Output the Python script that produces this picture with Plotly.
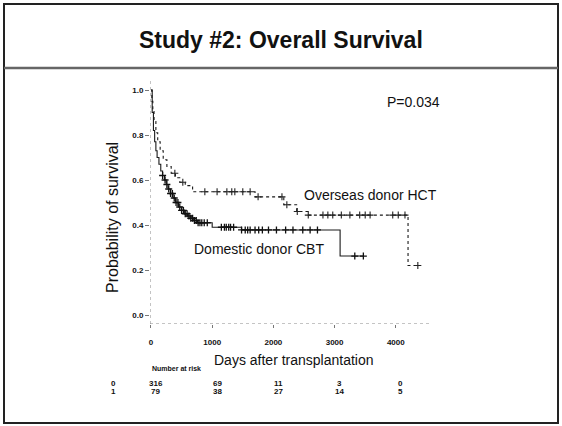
import plotly.graph_objects as go

# ---------------- data ----------------
cbt_times = [0, 20, 40, 60, 80, 100, 130, 160, 190, 220, 250, 280, 320, 360, 400, 450,
             500, 550, 600, 650, 700, 760, 1000, 1480, 3090, 3470]
cbt_surv = [1.0, 0.90, 0.82, 0.77, 0.73, 0.70, 0.67, 0.64, 0.62, 0.60, 0.58, 0.56, 0.54, 0.52,
            0.50, 0.48, 0.465, 0.45, 0.44, 0.43, 0.42, 0.41, 0.39, 0.378, 0.262, 0.262]
cbt_censor = [190, 230, 260, 290, 320, 350, 380, 410, 440, 470, 500, 530, 560, 590, 620, 650,
              680, 710, 740, 770, 800, 830, 870, 920, 1150, 1200, 1230, 1270, 1300, 1350, 1480,
              1540, 1580, 1620, 1700, 1760, 1820, 1920, 2050, 2200, 2320, 2480, 2600, 2720,
              3330, 3470]

hct_times = [0, 15, 30, 50, 80, 110, 150, 200, 260, 330, 400, 470, 560, 680, 1700, 2170,
             2380, 2570, 4200, 4360]
hct_surv = [1.0, 0.95, 0.91, 0.86, 0.81, 0.77, 0.73, 0.69, 0.66, 0.63, 0.61, 0.59, 0.575,
            0.548, 0.525, 0.49, 0.46, 0.444, 0.22, 0.22]
hct_censor = [390, 520, 880, 1080, 1240, 1320, 1370, 1500, 1620, 1750, 2140, 2220, 2390, 2570,
              2810, 2890, 2970, 3110, 3250, 3410, 3500, 3580, 3950, 4040, 4150, 4360]

x_ticks = [0, 1000, 2000, 3000, 4000]
x_ticktext = ["0", "1000", "2000", "3000", "4000"]
y_ticks = [0.0, 0.2, 0.4, 0.6, 0.8, 1.0]
y_ticktext = ["0.0", "0.2", "0.4", "0.6", "0.8", "1.0"]

risk_labels = ["0", "1"]
risk_cbt = [316, 69, 11, 3, 0]
risk_hct = [79, 38, 27, 14, 5]

title_text = "Study #2: Overall Survival"
p_text = "P=0.034"
hct_label = "Overseas donor HCT"
cbt_label = "Domestic donor CBT"


def step_at(times, surv, t):
    val = surv[0]
    for ti, si in zip(times, surv):
        if ti <= t:
            val = si
        else:
            break
    return val


W, H = 562, 426
FONT = "Arial, Liberation Sans, sans-serif"
XR = [-16, 4560]
YR = [-0.04, 1.04]
# pixel placement of plot area
x0px, x1px = 150.0, 151 + 4560 * 0.0612
ytop_px, ybot_px = 81.0, 324.0

fig = go.Figure()

fig.add_trace(go.Scatter(x=cbt_times, y=cbt_surv, mode="lines", line_shape="hv",
                         line=dict(color="#1a1a1a", width=1.1), hoverinfo="skip",
                         showlegend=False))
fig.add_trace(go.Scatter(x=hct_times, y=hct_surv, mode="lines", line_shape="hv",
                         line=dict(color="#1a1a1a", width=1.1, dash="dot"), hoverinfo="skip",
                         showlegend=False))
fig.add_trace(go.Scatter(x=cbt_censor, y=[step_at(cbt_times, cbt_surv, t) for t in cbt_censor],
                         mode="markers",
                         marker=dict(symbol="cross-thin", size=5, line=dict(width=1.3, color="#111")),
                         hoverinfo="skip", showlegend=False))
fig.add_trace(go.Scatter(x=hct_censor, y=[step_at(hct_times, hct_surv, t) for t in hct_censor],
                         mode="markers",
                         marker=dict(symbol="cross-thin", size=5, line=dict(width=1.1, color="#222")),
                         hoverinfo="skip", showlegend=False))

fig.update_layout(
    width=W, height=H,
    margin=dict(l=0, r=0, t=0, b=0),
    paper_bgcolor="white", plot_bgcolor="white",
    font=dict(family=FONT, color="#111"),
    xaxis=dict(domain=[x0px / W, x1px / W], range=XR, showgrid=False, zeroline=False,
               showline=False, tickmode="array", tickvals=x_ticks,
               ticktext=["<b>%s</b>" % t for t in x_ticktext],
               ticks="outside", ticklen=3, tickcolor="#777", tickwidth=1,
               tickfont=dict(size=8, family=FONT, color="#111"), ticklabelstandoff=7),
    yaxis=dict(domain=[1 - ybot_px / H, 1 - ytop_px / H], range=YR, showgrid=False,
               zeroline=False, showline=False, tickmode="array", tickvals=y_ticks,
               ticktext=["<b>%s</b>" % t for t in y_ticktext],
               ticks="outside", ticklen=4, tickcolor="#777", tickwidth=1,
               tickfont=dict(size=8, family=FONT, color="#111")),
)

shapes = [
    # outer frame
    dict(type="rect", xref="paper", yref="paper", x0=4 / W, x1=558 / W, y0=1 - 423 / H, y1=1 - 4 / H,
         line=dict(color="#222", width=2)),
    # separator under title
    dict(type="line", xref="paper", yref="paper", x0=4 / W, x1=558 / W, y0=1 - 68 / H, y1=1 - 68 / H,
         line=dict(color="#666", width=2.5)),
    # dotted axis lines
    dict(type="line", xref="x", yref="y", x0=XR[0], x1=XR[1], y0=YR[0], y1=YR[0],
         line=dict(color="#888", width=1, dash="dot")),
    dict(type="line", xref="x", yref="y", x0=XR[0], x1=XR[0], y0=YR[0], y1=YR[1],
         line=dict(color="#888", width=1, dash="dot")),
]
fig.update_layout(shapes=shapes)

ann = []
ann.append(dict(text="<b>%s</b>" % title_text, xref="paper", yref="paper", x=281 / W, y=1 - 40 / H,
                showarrow=False, font=dict(size=23, family=FONT, color="#111"),
                xanchor="center", yanchor="middle"))
ann.append(dict(text=p_text, xref="paper", yref="paper", x=385 / W, y=1 - 102 / H,
                showarrow=False, font=dict(size=14, family=FONT, color="#111"),
                xanchor="left", yanchor="middle"))
ann.append(dict(text=hct_label, xref="paper", yref="paper", x=302 / W, y=1 - 195 / H,
                showarrow=False, font=dict(size=14, family=FONT, color="#111"),
                xanchor="left", yanchor="middle"))
ann.append(dict(text=cbt_label, xref="paper", yref="paper", x=192 / W, y=1 - 249 / H,
                showarrow=False, font=dict(size=14, family=FONT, color="#111"),
                xanchor="left", yanchor="middle"))
ann.append(dict(text="Probability of survival", xref="paper", yref="paper", x=113 / W, y=1 - 218 / H,
                showarrow=False, textangle=-90, font=dict(size=16, family=FONT, color="#111"),
                xanchor="center", yanchor="middle"))
ann.append(dict(text="Days after transplantation", xref="paper", yref="paper", x=294 / W, y=1 - 360 / H,
                showarrow=False, font=dict(size=14, family=FONT, color="#111"),
                xanchor="center", yanchor="middle"))
ann.append(dict(text="<b>Number at risk</b>", xref="paper", yref="paper", x=150 / W, y=1 - 368 / H,
                showarrow=False, font=dict(size=7, family=FONT, color="#111"),
                xanchor="left", yanchor="middle"))
row_y = [383, 391]
for lab, vals, ry in zip(risk_labels, [risk_cbt, risk_hct], row_y):
    ann.append(dict(text="<b>%s</b>" % lab, xref="paper", yref="paper", x=113 / W, y=1 - ry / H,
                    showarrow=False, font=dict(size=8, family=FONT, color="#111"),
                    xanchor="center", yanchor="middle"))
    for xt, v in zip(x_ticks, vals):
        ann.append(dict(text="<b>%d</b>" % v, xref="x", yref="paper", x=xt + 80, y=1 - ry / H,
                        showarrow=False, font=dict(size=8, family=FONT, color="#111"),
                        xanchor="center", yanchor="middle"))
fig.update_layout(annotations=ann)

fig.write_html("out.html", config={"displayModeBar": False},
               post_script="document.body.style.margin='0px';document.body.style.overflow='hidden';")
